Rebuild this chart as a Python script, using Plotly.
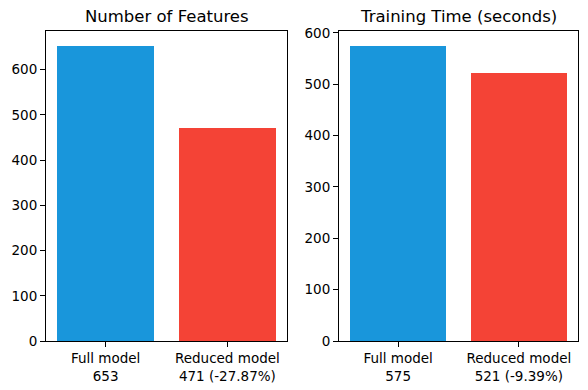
import plotly.graph_objects as go

categories = ["Full model", "Reduced model"]
features = [653, 471]
train_time = [575, 521]
feature_labels = ["Full model<br>653", "Reduced model<br>471 (-27.87%)"]
time_labels = ["Full model<br>575", "Reduced model<br>521 (-9.39%)"]
titles = ["Number of Features", "Training Time (seconds)"]
colors = ["#1996DB", "#F44336"]

W, H = 588, 390
fig = go.Figure()
fig.add_trace(go.Bar(x=[0, 1], y=features, marker=dict(color=colors, line=dict(width=0)),
                     width=0.8, xaxis="x", yaxis="y", showlegend=False))
fig.add_trace(go.Bar(x=[0, 1], y=train_time, marker=dict(color=colors, line=dict(width=0)),
                     width=0.8, xaxis="x2", yaxis="y2", showlegend=False))

ydom = [1 - 341 / H, 1 - 31 / H]
axcommon = dict(showgrid=False, zeroline=False, showline=True, linecolor="black", linewidth=1,
                mirror=True, ticks="outside", ticklen=5, tickwidth=1, tickcolor="black",
                automargin=False,
                tickfont=dict(family="DejaVu Sans", size=13.5, color="black"))

fig.update_layout(
    template="none",
    width=W, height=H, margin=dict(l=0, r=0, t=0, b=0, pad=0),
    plot_bgcolor="white", paper_bgcolor="white", bargap=0,
    xaxis=dict(domain=[46 / W, 287 / W], range=[-0.49, 1.49], tickvals=[0, 1],
               ticktext=feature_labels, anchor="y", **axcommon),
    yaxis=dict(domain=ydom, range=[0, max(features) * 1.05], dtick=100, anchor="x", **axcommon),
    xaxis2=dict(domain=[339 / W, 578 / W], range=[-0.49, 1.49], tickvals=[0, 1],
                ticktext=time_labels, anchor="y2", **axcommon),
    yaxis2=dict(domain=ydom, range=[0, max(train_time) * 1.05], dtick=100, anchor="x2", **axcommon),
)

for i, (t, xc) in enumerate(zip(titles, [(46 + 287) / 2 / W, (339 + 578) / 2 / W])):
    fig.add_annotation(text=t, x=xc, y=1 - 17 / H, xref="paper", yref="paper",
                       showarrow=False, xanchor="center", yanchor="middle",
                       font=dict(family="DejaVu Sans", size=16.5, color="black"))

fig.write_html("out.html", config={"displayModeBar": False},
               post_script="document.body.style.margin='0';document.body.style.overflow='hidden';")
